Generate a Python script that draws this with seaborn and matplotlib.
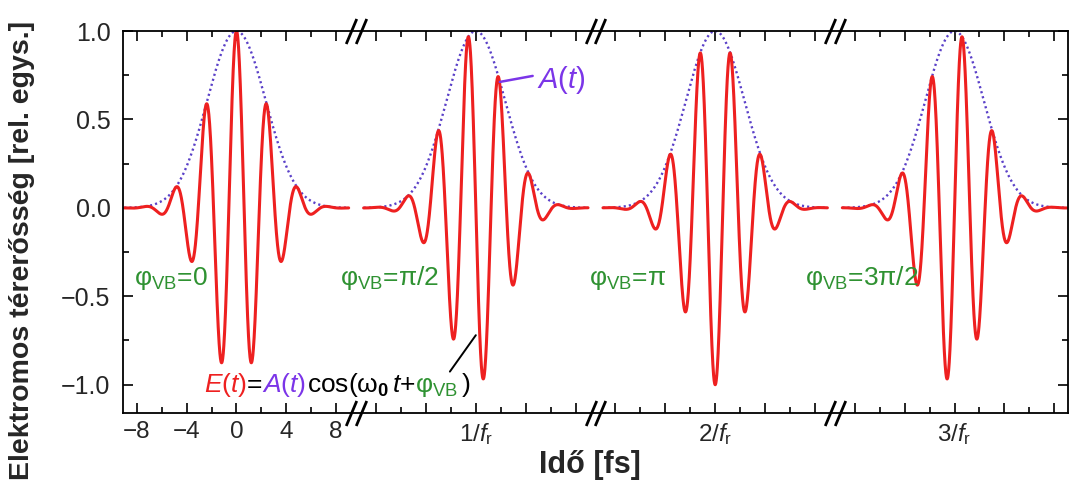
import numpy as np
import pandas as pd
import matplotlib
matplotlib.use("Agg")
import matplotlib.pyplot as plt
import seaborn as sns
from matplotlib import transforms
from matplotlib.ticker import FixedLocator, FixedFormatter

# ---------------- data ----------------
phase_labels = ["0", "π/2", "π", "3π/2"]          # carrier-envelope phase of each pulse
phases_rad = [0.0, np.pi / 2, np.pi, 3 * np.pi / 2]
carrier_period_fs = 2.45       # optical period (peak spacing)
envelope_tau_fs = 3.32         # Gaussian envelope 1/e half width
segment_spacing_fs = 19.2      # drawn distance between pulse windows (axis is broken)
segment_halfwidth_fs = 9.0     # each pulse window spans ±9 fs
center_labels = ["0", r"1/$\mathit{f}_\mathrm{r}$", r"2/$\mathit{f}_\mathrm{r}$", r"3/$\mathit{f}_\mathrm{r}$"]
major_offsets = [-8, -4, 0, 4, 8]
first_major_labels = ["−8", "−4", "0", "4", "8"]
minor_offsets = [-6, -2, 2, 6]
y_ticks = [-1.0, -0.5, 0.0, 0.5, 1.0]
y_tick_labels = ["−1.0", "−0.5", "0.0", "0.5", "1.0"]
y_minor = [-0.75, -0.25, 0.25, 0.75]

RED = "#ee2020"
PURPLE = "#7b35e8"
ENV = "#5a40c8"
GREEN = "#2f9232"

# ---------------- build table ----------------
rows = []
omega = 2 * np.pi / carrier_period_fs
for k, ph in enumerate(phases_rad):
    t = np.linspace(-segment_halfwidth_fs, segment_halfwidth_fs, 1200)
    A = np.exp(-(t / envelope_tau_fs) ** 2)
    E = A * np.cos(omega * t + ph)
    rows.append(pd.DataFrame({"x": k * segment_spacing_fs + t, "A": A, "E": E, "segment": k}))
df = pd.concat(rows, ignore_index=True)

# ---------------- figure ----------------
sns.set_style("ticks")
plt.rcParams["font.family"] = ["Liberation Sans", "DejaVu Sans"]
plt.rcParams["mathtext.fontset"] = "custom"
plt.rcParams["mathtext.rm"] = "Liberation Sans"
plt.rcParams["mathtext.it"] = "Liberation Sans:italic"
plt.rcParams["mathtext.bf"] = "Liberation Sans:bold"

fig = plt.figure(figsize=(10.7, 4.88), dpi=100)
ax = fig.add_axes([123 / 1070, 1 - 413 / 488, (1068 - 123) / 1070, (413 - 31) / 488])

sns.lineplot(data=df, x="x", y="A", units="segment", estimator=None, sort=False,
             color=ENV, linewidth=1.7, linestyle=(0, (0.9, 1.3)), ax=ax, legend=False)
sns.lineplot(data=df, x="x", y="E", units="segment", estimator=None, sort=False,
             color=RED, linewidth=2.2, ax=ax, legend=False)

D = segment_spacing_fs
ax.set_xlim(-9.1, 3 * D + 9.1)
ax.set_ylim(-1.16, 1.0)
ax.set_xlabel("")
ax.set_ylabel("")

# x ticks
maj_pos, maj_lab, min_pos = [], [], []
for k in range(4):
    for o, lab in zip(major_offsets, first_major_labels):
        maj_pos.append(k * D + o)
        if k == 0:
            maj_lab.append(lab)
        else:
            maj_lab.append(center_labels[k] if o == 0 else "")
    for o in minor_offsets:
        min_pos.append(k * D + o)
ax.xaxis.set_major_locator(FixedLocator(maj_pos))
ax.xaxis.set_major_formatter(FixedFormatter(maj_lab))
ax.xaxis.set_minor_locator(FixedLocator(min_pos))
ax.yaxis.set_major_locator(FixedLocator(y_ticks))
ax.yaxis.set_major_formatter(FixedFormatter(y_tick_labels))
ax.yaxis.set_minor_locator(FixedLocator(y_minor))

ax.tick_params(which="both", direction="in", top=True, right=True, color="k", width=1.2)
ax.tick_params(which="major", length=7)
ax.tick_params(which="minor", length=4.5)
ax.tick_params(axis="x", which="major", labelsize=17.5, pad=6)
ax.tick_params(axis="y", which="major", labelsize=18, pad=9)
for s in ax.spines.values():
    s.set_linewidth(1.3)
    s.set_color("k")

# axis breaks "//"
verts = [(-0.42, -1), (0.42, 1)]
for k in range(1, 4):
    bx = (k - 0.5) * D
    for yy in (0, 1):
        ax.plot([bx - 0.38, bx + 0.38], [yy, yy], transform=ax.get_xaxis_transform(),
                marker=verts, markersize=18, linestyle="none", mec="k", mew=2.0, clip_on=False)

# labels
fig.text(22 / 1070, 1 - 250 / 488, "Elektromos térerősség [rel. egys.]", rotation=90,
         ha="center", va="center", fontsize=20.5, fontweight="bold")
fig.text(590 / 1070, 1 - 465 / 488, "Idő [fs]", ha="center", va="center",
         fontsize=22, fontweight="bold")

renderer = fig.canvas.get_renderer()

# phase labels
phase_x = [-8.2, D - 10.9, 2 * D - 10.1, 3 * D - 12.0]
for px, lab in zip(phase_x, phase_labels):
    ax.text(px, -0.435, r"$\mathrm{φ}_{\mathrm{VB}}$=" + lab, color=GREEN, fontsize=19,
            va="baseline", ha="left")

# A(t) label and pointer
ax.plot([D + 1.92, D + 4.56], [0.712, 0.746], color=PURPLE, linewidth=1.8)
ax.text(D + 4.9, 0.678, r"$\mathit{A}(\mathit{t})$", color=PURPLE, fontsize=21, va="baseline")

# formula with multi-coloured pieces
ax.plot([D - 2.08, D + 0.0], [-0.926, -0.72], color="k", linewidth=1.4)
pieces = [
    (r"$\mathit{E}(\mathit{t})$", RED),
    ("=", "k"),
    (r"$\mathit{A}(\mathit{t})$", PURPLE),
    (r"cos($\mathrm{ω}_{\mathbf{0}}\,\mathit{t}$+", "k"),
    (r"$\mathrm{φ}_{\mathrm{VB}}$", GREEN),
    (r"$\,$)", "k"),
]
tr = ax.transData
for s, c in pieces:
    txt = ax.text(-2.6, -1.04, s, color=c, fontsize=19, va="baseline", ha="left", transform=tr)
    ex = txt.get_window_extent(renderer)
    tr = transforms.offset_copy(txt.get_transform(), fig=fig, x=ex.width, units="dots")

fig.savefig("out.png", dpi=100)
